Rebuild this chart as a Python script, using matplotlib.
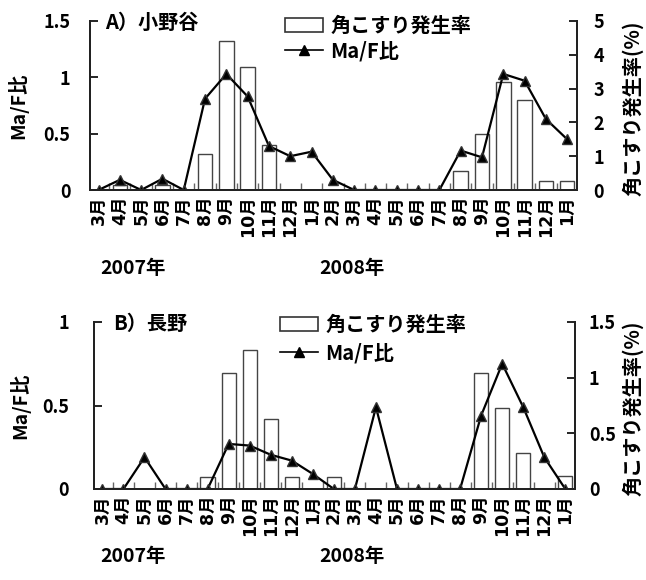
import matplotlib
matplotlib.use("Agg")
import matplotlib.pyplot as plt
from matplotlib.patches import Rectangle
from matplotlib.lines import Line2D
import numpy as np

plt.rcParams['font.family'] = ['Noto Sans CJK JP', 'DejaVu Sans']
plt.rcParams['font.weight'] = 'bold'

months = ['3月', '4月', '5月', '6月', '7月', '8月', '9月', '10月', '11月', '12月',
          '1月', '2月', '3月', '4月', '5月', '6月', '7月', '8月', '9月', '10月',
          '11月', '12月', '1月']
years = ['2007年', '2008年']

# Panel A) 小野谷
maf_A = [0, 0.09, 0, 0.10, 0, 0.81, 1.03, 0.83, 0.39, 0.30, 0.34, 0.09,
         0, 0, 0, 0, 0, 0.35, 0.29, 1.03, 0.97, 0.63, 0.45]
rate_A = [0, 0.15, 0, 0.15, 0, 1.06, 4.41, 3.65, 1.32, 0, 0, 0,
          0, 0, 0, 0, 0, 0.57, 1.65, 3.20, 2.67, 0.28, 0.28]

# Panel B) 長野
maf_B = [0, 0, 0.19, 0, 0, 0, 0.27, 0.26, 0.205, 0.17, 0.09, 0,
         0, 0.49, 0, 0, 0, 0, 0.44, 0.75, 0.49, 0.19, 0]
rate_B = [0, 0, 0, 0, 0, 0.11, 1.04, 1.25, 0.63, 0.11, 0, 0.11,
          0, 0, 0, 0, 0, 0, 1.045, 0.73, 0.32, 0, 0.12]

W, H = 646, 580
fig = plt.figure(figsize=(W / 100, H / 100), dpi=100)

def px(x0, y0, x1, y1):
    return [x0 / W, 1 - y1 / H, (x1 - x0) / W, (y1 - y0) / H]

def panel(rect, maf, rate, lylim, lyticks, lylabels, rylim, ryticks, rylabels,
          title, title_xy, leg_xy, lpad, rpad, ylab_x, rlab_x, year_y, lspace):
    ax = fig.add_axes(rect)
    ax2 = ax.twinx()
    x = np.arange(len(months))
    ax2.bar(x, rate, width=0.68, facecolor='white', edgecolor='#444444', linewidth=1.0)
    ax.plot(x, maf, color='black', linewidth=1.6, marker='^', markersize=7,
            markerfacecolor='black', markeredgecolor='#333333')
    ax.set_zorder(ax2.get_zorder() + 1)
    ax.patch.set_visible(False)
    for a in (ax, ax2):
        a.set_xlim(-0.4, len(months) - 1 + 0.46)
        a.spines['top'].set_visible(False)
        for s in ('left', 'right', 'bottom'):
            a.spines[s].set_linewidth(1.4)
            a.spines[s].set_color('#222222')
    ax.set_ylim(*lylim)
    ax.set_yticks(lyticks)
    ax.set_yticklabels(lylabels)
    ax2.set_ylim(*rylim)
    ax2.set_yticks(ryticks)
    ax2.set_yticklabels(rylabels)
    ax.tick_params(axis='y', direction='in', length=6, width=1.2, pad=lpad, labelsize=13)
    ax2.tick_params(axis='y', direction='in', length=6, width=1.2, pad=rpad, labelsize=13)
    ax.set_xticks(x)
    ax.set_xticklabels(months, rotation=90, fontsize=12.5,
                       family=['DejaVu Sans', 'Noto Sans CJK JP'])
    ax.tick_params(axis='x', which='major', length=0, pad=4)
    ax.set_xticks(np.arange(len(months) - 1) + 0.5, minor=True)
    ax.tick_params(axis='x', which='minor', direction='in', length=5, width=1.0, color='#666666')
    ax2.tick_params(axis='x', length=0)
    fig.text(ylab_x / W, rect[1] + rect[3] * 0.5, 'Ma/F比', rotation=90,
             ha='center', va='center', fontsize=14)
    fig.text(rlab_x / W, rect[1] + rect[3] * 0.5 - 0.005, '角こすり発生率(%)', rotation=90,
             ha='center', va='center', fontsize=14.5)
    fig.text(title_xy[0] / W, 1 - title_xy[1] / H, title, ha='left', va='center', fontsize=14.5)
    fig.text(133 / W, 1 - year_y / H, years[0], ha='center', va='center', fontsize=14)
    fig.text(352 / W, 1 - year_y / H, years[1], ha='center', va='center', fontsize=14)
    h1 = Rectangle((0, 0), 1, 1, facecolor='white', edgecolor='#333333', linewidth=1.2)
    h2 = Line2D([], [], color='black', linewidth=1.2, marker='^', markersize=7,
                markerfacecolor='black')
    ax.legend([h1, h2], ['角こすり発生率', 'Ma/F比'], loc='upper left',
              bbox_to_anchor=(leg_xy[0] / W, 1 - leg_xy[1] / H),
              bbox_transform=fig.transFigure, frameon=False, fontsize=14.5,
              handlelength=1.9, handleheight=0.7, handletextpad=0.35,
              labelspacing=lspace, borderaxespad=0, borderpad=0)
    return ax, ax2

panel(px(90, 21, 577, 190), maf_A, rate_A,
      (0, 1.5), [0, 0.5, 1, 1.5], ['0', '0.5', '1', '1.5'],
      (0, 5), [0, 1, 2, 3, 4, 5], ['0', '1', '2', '3', '4', '5'],
      'A）小野谷', (105, 22), (285, 15), 14, 12, 18, 633, 268, 0.2)

panel(px(94, 322, 575, 489), maf_B, rate_B,
      (0, 1), [0, 0.5, 1], ['0', '0.5', '1'],
      (0, 1.5), [0, 0.5, 1, 1.5], ['0', '0.5', '1', '1.5'],
      'B）長野', (113, 323), (280, 314), 18, 10, 20, 633, 557, 0.35)

fig.savefig('out.png', dpi=100, facecolor='white')
